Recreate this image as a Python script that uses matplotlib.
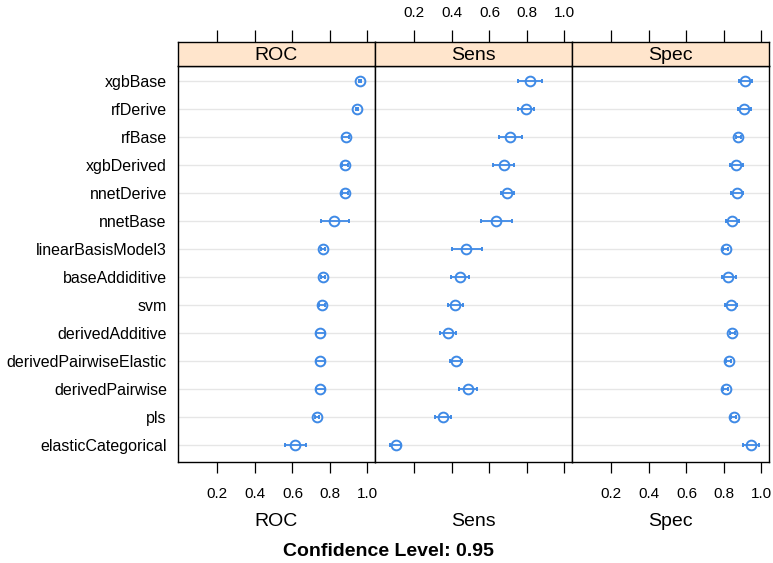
import numpy as np
import matplotlib
matplotlib.use("Agg")
import matplotlib.pyplot as plt

plt.rcParams['font.family'] = ['Liberation Sans', 'DejaVu Sans']

models = ["xgbBase", "rfDerive", "rfBase", "xgbDerived", "nnetDerive", "nnetBase",
          "linearBasisModel3", "baseAddiditive", "svm", "derivedAdditive",
          "derivedPairwiseElastic", "derivedPairwise", "pls", "elasticCategorical"]
metrics = ["ROC", "Sens", "Spec"]

# point estimates and 95% interval bounds
roc = [0.959, 0.945, 0.884, 0.881, 0.879, 0.823, 0.763, 0.763, 0.758, 0.749, 0.749, 0.747, 0.730, 0.616]
roc_lo = [0.955, 0.941, 0.866, 0.864, 0.862, 0.750, 0.750, 0.750, 0.742, 0.725, 0.725, 0.723, 0.718, 0.561]
roc_hi = [0.963, 0.949, 0.902, 0.898, 0.896, 0.902, 0.776, 0.776, 0.774, 0.776, 0.776, 0.775, 0.742, 0.674]

sens = [0.814, 0.793, 0.712, 0.676, 0.696, 0.637, 0.477, 0.442, 0.419, 0.377, 0.421, 0.484, 0.351, 0.102]
sens_lo = [0.752, 0.752, 0.650, 0.621, 0.661, 0.556, 0.400, 0.395, 0.379, 0.337, 0.389, 0.440, 0.309, 0.072]
sens_hi = [0.879, 0.835, 0.775, 0.732, 0.733, 0.719, 0.559, 0.489, 0.461, 0.421, 0.456, 0.532, 0.393, 0.130]

spec = [0.912, 0.907, 0.877, 0.865, 0.867, 0.845, 0.809, 0.824, 0.837, 0.844, 0.826, 0.809, 0.853, 0.942]
spec_lo = [0.880, 0.874, 0.862, 0.833, 0.836, 0.812, 0.797, 0.787, 0.807, 0.830, 0.813, 0.797, 0.840, 0.902]
spec_hi = [0.949, 0.945, 0.892, 0.903, 0.899, 0.882, 0.821, 0.863, 0.868, 0.858, 0.839, 0.821, 0.866, 0.986]

data = {"ROC": (roc, roc_lo, roc_hi),
        "Sens": (sens, sens_lo, sens_hi),
        "Spec": (spec, spec_lo, spec_hi)}

ticks = [0.2, 0.4, 0.6, 0.8, 1.0]
tick_labels = ["0.2", "0.4", "0.6", "0.8", "1.0"]

W, H = 773, 563
fig = plt.figure(figsize=(W / 100, H / 100), dpi=100)

blue = "#3f8ae6"
xlim = (-0.01, 1.04)
ylim = (14.6, 0.46)
edges = [178, 375, 572, 769]
top_strip, bot_strip, bot_panel = 42, 66, 462

y = np.arange(1, len(models) + 1)

for i, m in enumerate(metrics):
    x0, x1 = edges[i], edges[i + 1]
    ax = fig.add_axes([x0 / W, 1 - bot_panel / H, (x1 - x0) / W, (bot_panel - bot_strip) / H])
    st = fig.add_axes([x0 / W, 1 - bot_strip / H, (x1 - x0) / W, (bot_strip - top_strip) / H])

    est, lo, hi = data[m]
    est = np.array(est)
    for yy in y:
        ax.axhline(yy, color="#e6e6e6", lw=1.0, zorder=0)
    ax.errorbar(est, y, xerr=[est - np.array(lo), np.array(hi) - est], fmt="o",
                color=blue, mfc="none", mec=blue, ms=7, mew=1.4, elinewidth=1.3,
                capsize=1.5, capthick=1.3, zorder=3)
    ax.set_xlim(xlim)
    ax.set_ylim(ylim)
    ax.set_xticks(ticks)
    ax.tick_params(axis="x", direction="out", length=8, width=0.9, pad=10, labelsize=11)
    if i == 1:
        ax.set_xticklabels([])
    else:
        ax.set_xticklabels(tick_labels)
    if i == 0:
        ax.set_yticks(y)
        ax.set_yticklabels(models, fontsize=11.5)
        ax.tick_params(axis="y", length=0, pad=8)
    else:
        ax.set_yticks([])
    for s in ax.spines.values():
        s.set_linewidth(1.0)

    st.set_facecolor("#ffe5cc")
    st.set_xlim(xlim)
    st.set_ylim(0, 1)
    st.set_yticks([])
    st.xaxis.tick_top()
    st.set_xticks(ticks)
    st.tick_params(axis="x", direction="out", length=9, width=0.9, pad=7, labelsize=11)
    if i == 1:
        st.set_xticklabels(tick_labels)
    else:
        st.set_xticklabels([])
    st.text(0.5, 0.45, m, transform=st.transAxes, ha="center", va="center", fontsize=14)
    for s in st.spines.values():
        s.set_linewidth(1.0)

    # panel label under each column
    fig.text((x0 + x1) / 2 / W, 1 - 521 / H, m, ha="center", va="center", fontsize=14)

fig.text(388 / W, 1 - 551 / H, "Confidence Level: 0.95", ha="center", va="center",
         fontsize=14, fontweight="bold")

fig.savefig("out.png", dpi=100)
